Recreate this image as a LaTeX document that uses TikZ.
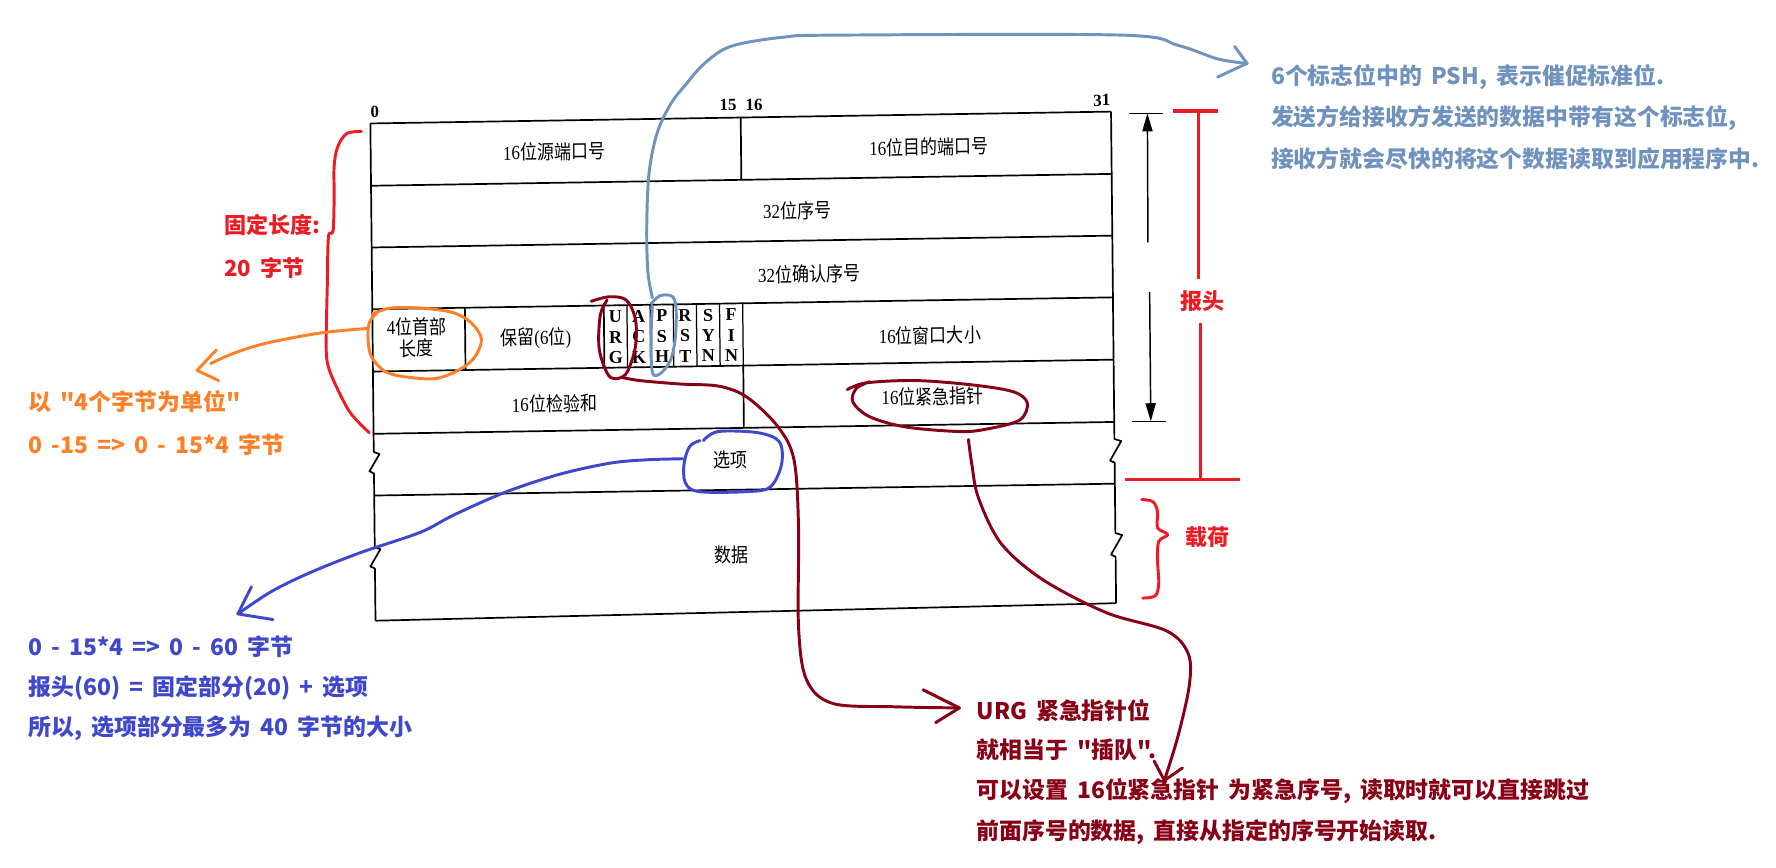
\documentclass[tikz,border=0pt]{standalone}
\usepackage{fontspec}
\setmainfont{Liberation Serif}
\newfontfamily\cjk{Noto Sans CJK SC}
\usetikzlibrary{arrows.meta}
\definecolor{pred}{HTML}{ED1C24}
\definecolor{porange}{HTML}{FF7F27}
\definecolor{pindigo}{HTML}{3F48CC}
\definecolor{pgray}{HTML}{7092BE}
\definecolor{pdark}{HTML}{880015}
\newcommand\dg[1]{{\rmfamily #1}}
\newcommand\ct[1]{\scalebox{0.86}[1]{#1}}
\newcommand\widesp{\spaceskip 0.4em\relax}
\tikzset{
  tbl/.style={line width=1.5pt, line join=round},
  cell/.style={font=\cjk\fontsize{17.5}{19}\selectfont, inner sep=0pt, transform shape},
  flag/.style={font=\bfseries\fontsize{16}{16}\selectfont, inner sep=0pt, transform shape},
  bitno/.style={font=\bfseries\fontsize{15}{15}\selectfont, inner sep=0pt, transform shape},
  note/.style={font=\cjk\bfseries\fontsize{20.2}{24}\selectfont\widesp, anchor=west, inner sep=0pt},
  rednote/.style={font=\cjk\bfseries\fontsize{19.5}{24}\selectfont\widesp, anchor=west, inner sep=0pt, text=pred},
  tag/.style={font=\cjk\bfseries\fontsize{19.5}{24}\selectfont, inner sep=0pt, text=pred},
  hand/.style={line width=2.6pt, line cap=round, line join=round},
  curve/.style={hand, smooth, tension=0.55},
  blk/.style={line width=1.3pt},
}
\begin{document}
\begin{tikzpicture}[x=1pt,y=-1pt]
\fill[white] (0,0) rectangle (1568,766);
\useasboundingbox (0,0) rectangle (1568,766);

% ---------------- table (scanned, slightly skewed) ----------------
\begin{scope}[shift={(327,109)}, xslant=-0.0103, yslant=0.016]
  \draw[tbl] (0,0) -- (654,0);
  \draw[tbl] (0,55) -- (654,55);
  \draw[tbl] (0,109.5) -- (654,109.5);
  \draw[tbl] (0,164) -- (654,164);
  \draw[tbl] (0,219) -- (654,219);
  \draw[tbl] (0,274) -- (654,274);
  \draw[tbl] (0,328.5) -- (654,328.5);
  \draw[tbl] (0,439) -- (654,434);
  % left edge with breaks
  \draw[tbl] (0,0) -- (0,290) -- (5,292) -- (-4,307) -- (0,309) -- (0,374) -- (5,376) -- (-4,391) -- (0,393) -- (0,439);
  % right edge with breaks
  \draw[tbl] (654,0) -- (654,289) -- (660,291) -- (650,308) -- (654,310) -- (654,372) -- (660,374) -- (650,391) -- (654,393) -- (654,434);
  % dividers
  \draw[tbl] (327,0) -- (327,55);
  \draw[tbl] (81.75,164) -- (81.75,219);
  \draw[tbl] (204.4,164) -- (204.4,219);
  \foreach \k in {1,...,6} {\draw[line width=1.1pt] ({204.4+20.44*\k},164) -- ({204.4+20.44*\k},219);}
  \draw[tbl] (327,219) -- (327,274);
  % bit numbers
  \node[bitno] (b0) at (4,-10) {0};
  \node[bitno] (b15) at (316,-11) {15};
  \node[bitno] (b16) at (339,-11) {16};
  \node[bitno] (b31) at (646,-10) {31};
  % cell texts
  \node[cell] (srcport) at (162,27.5) {\ct{\dg{16}位源端口号}};
  \node[cell] (dstport) at (493,28.5) {\ct{\dg{16}位目的端口号}};
  \node[cell] (seq) at (376,83) {\ct{\dg{32}位序号}};
  \node[cell] (ack) at (386,139) {\ct{\dg{32}位确认序号}};
  \node[cell] (hlen1) at (39,180) {\ct{\dg{4}位首部}};
  \node[cell] (hlen2) at (39,199) {\ct{长度}};
  \node[cell] (rsv) at (144,192) {\ct{保留\dg{(6}位\dg{)}}};
  \foreach \a/\b/\c [count=\i from 0] in {U/R/G,A/C/K,P/S/H,R/S/T,S/Y/N,F/I/N} {
    \node[flag] (f\i a) at ({204.4+20.44*(\i+0.5)},174) {\a};
    \node[flag] (f\i b) at ({204.4+20.44*(\i+0.5)},192) {\b};
    \node[flag] (f\i c) at ({204.4+20.44*(\i+0.5)},210) {\c};
  }
  \node[cell] (win) at (492,195) {\ct{\dg{16}位窗口大小}};
  \node[cell] (csum) at (160,250) {\ct{\dg{16}位检验和}};
  \node[cell] (urgp) at (494,249) {\ct{\dg{16}位紧急指针}};
  \node[cell] (opt) at (315,302) {\ct{选项}};
  \node[cell] (data) at (315,386) {\ct{数据}};
\end{scope}

% ---------------- black header arrow ----------------
\coordinate (hTop) at (1013,100);
\coordinate (hBot) at (1016,372);
\draw[blk] (997,100) -- (1027,100);
\draw[blk] (999,372) -- (1029,372);
\draw[blk,-{Triangle[length=16pt,width=9pt]}] (1013.5,214) -- (hTop);
\draw[blk,-{Triangle[length=16pt,width=9pt]}] (1015,258) -- (hBot);

% ---------------- red header marker ----------------
\node[tag] (hdr) at (1062,266) {报头};
\draw[pred,line width=2.8pt] (1036,98) -- (1075,98);
\draw[pred,line width=2.8pt] (1058,98) -- (1058,246);
\draw[pred,line width=2.8pt] (1060,285) -- (1060,423);
\draw[pred,line width=2.8pt] (993,423) -- (1095,423);

% payload brace
\node[tag] (payload) at (1066,474) {载荷};
\draw[curve,pred,line width=2.6pt] plot coordinates {(1008,441) (1018,443) (1022,452) (1022,466) (1031,472) (1023,478) (1022,495) (1023,515) (1020,526) (1009,528)};

% fixed length brace
\node[rednote] (fix1) at (198,199) {固定长度:};
\node[rednote] (fix2) at (198,237) {20 字节};
\draw[curve,pred] plot coordinates {(319,116) (306,118) (298,130) (295,147) (295,175) (294,204) (290,209) (289,250) (288,300) (289,320) (295,337) (309,364) (326,382)};

% ---------------- orange: header length ----------------
\node[note,text=porange] (or1) at (25,355) {以 "4个字节为单位"};
\node[note,text=porange] (or2) at (25,393) {0 -15 => 0 - 15*4 字节};
\draw[curve,porange] plot coordinates {(329,277) (345,272) (372,272) (400,276) (416,285) (425,299) (420,314) (408,325) (386,334) (360,333) (340,328) (328,315) (325,300) (326,285) (333,276)};
\coordinate (orA) at (324,290);
\coordinate (orTip) at (174,327);
\draw[curve,porange] plot coordinates {(orA) (283,294) (235,303) (206,312) (186,321)};
\draw[hand,porange] (191,309) -- (orTip) -- (193,336);

% ---------------- blue-gray: PSH ----------------
\node[note,text=pgray] (psh1) at (1122,68) {6个标志位中的 PSH, 表示催促标准位.};
\node[note,text=pgray] (psh2) at (1122,104) {发送方给接收方发送的数据中带有这个标志位,};
\node[note,text=pgray] (psh3) at (1122,140) {接收方就会尽快的将这个数据读取到应用程序中.};
\draw[curve,pgray] plot coordinates {(575,268) (583,261) (594,262) (597,275) (596,300) (592,318) (584,329) (577,331) (575,318) (575,290) (576,270)};
\coordinate (pshA) at (576,263);
\coordinate (pshTip) at (1101,56);
\draw[curve,pgray] plot coordinates {(pshA) (572,240) (571,200) (573,153) (580,118) (592,92) (606,74) (622,56) (645,41) (690,33) (740,31) (990,31) (1040,40) (1075,52) (pshTip)};
\draw[hand,pgray] (1090,41) -- (pshTip) -- (1075,68);

% ---------------- dark red: URG ----------------
\node[note,text=pdark] (urg1) at (862,627) {URG 紧急指针位};
\node[note,text=pdark] (urg2) at (862,662) {就相当于 "插队".};
\node[note,text=pdark] (urg3) at (862,698) {可以设置 16位紧急指针 为紧急序号, 读取时就可以直接跳过};
\node[note,text=pdark] (urg4) at (862,735) {前面序号的数据, 直接从指定的序号开始读取.};
\draw[curve,pdark] plot coordinates {(522,266) (538,262) (553,265) (561,282) (561,306) (554,328) (546,334) (537,331) (529,308) (530,278) (536,265)};
\coordinate (urgA) at (548,333);
\coordinate (urgTip) at (847,625);
\draw[curve,pdark] plot coordinates {(urgA) (565,336) (600,339) (635,341) (660,351) (687,377) (701,406) (705,465) (705,553) (712,600) (735,621) (790,624) (urgTip)};
\draw[hand,pdark] (815,609) -- (urgTip) -- (826,638);
% urgent pointer ellipse
\draw[curve,pdark] plot coordinates {(748,344) (765,338) (809,336) (860,340) (895,346) (907,356) (900,371) (870,379) (847,381) (800,377) (768,368) (753,355) (756,343) (768,337)};
\coordinate (upA) at (855,388);
\coordinate (upTip) at (1028,689);
\draw[curve,pdark] plot coordinates {(upA) (858,410) (864,440) (884,480) (921,512) (977,541) (1030,557) (1049,577) (1050,605) (1040,650) (upTip)};
\draw[hand,pdark] (1019,672) -- (upTip) -- (1044,678);

% ---------------- indigo: options ----------------
\node[note,text=pindigo] (op1) at (25,571) {0 - 15*4 => 0 - 60 字节};
\node[note,text=pindigo] (op2) at (25,607) {报头(60) = 固定部分(20) + 选项};
\node[note,text=pindigo] (op3) at (25,643) {所以, 选项部分最多为 40 字节的大小};
\draw[curve,pindigo] plot coordinates {(621,389) (634,381) (669,382) (688,390) (690,410) (680,430) (660,434) (617,434) (605,426) (604,409) (609,394) (618,389)};
\coordinate (optA) at (603,405);
\coordinate (optTip) at (210,542);
\draw[curve,pindigo] plot coordinates {(optA) (570,406) (538,409) (493,419) (445,435) (400,455) (371,470) (318,488) (275,505) (240,522) (optTip)};
\draw[hand,pindigo] (222,518) -- (optTip) -- (241,547);
\end{tikzpicture}
\end{document}
